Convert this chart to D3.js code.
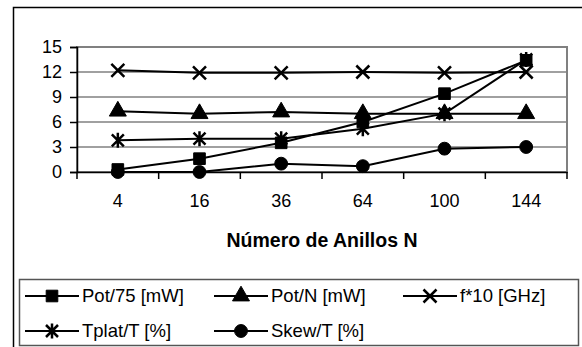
<!DOCTYPE html>
<html>
<head>
<meta charset="utf-8">
<script src="https://cdn.jsdelivr.net/npm/d3@7"></script>
<style>
  body { margin: 0; background: #fff; }
  text { font-family: "Liberation Sans", Arial, sans-serif; }
</style>
</head>
<body>
<script>
// datos
const categories = ["4", "16", "36", "64", "100", "144"];
const pot75 = [0.3, 1.6, 3.5, 6.0, 9.4, 13.4];
const potN = [7.3, 7.0, 7.2, 7.0, 7.0, 7.0];
const f10 = [12.2, 11.9, 11.9, 12.0, 11.9, 12.0];
const tplat = [3.8, 4.0, 4.0, 5.2, 7.0, 13.5];
const skew = [0, 0, 1.0, 0.7, 2.8, 3.0];
const yTicks = [0, 3, 6, 9, 12, 15];
const seriesNames = ["Pot/75 [mW]", "Pot/N [mW]", "f*10 [GHz]", "Tplat/T [%]", "Skew/T [%]"];
const seriesKinds = ["square", "triangle", "x", "asterisk", "circle"];

const W = 582, H = 347;
const svg = d3.select("body").append("svg")
  .attr("width", W).attr("height", H);

// marco exterior
svg.append("rect")
  .attr("x", 13.5).attr("y", 7.5)
  .attr("width", 600).attr("height", 400)
  .attr("fill", "#fff").attr("stroke", "#000").attr("stroke-width", 1.5);

const x = d3.scaleBand().domain(categories).range([77, 567]).padding(0);
const y = d3.scaleLinear().domain([0, 15]).range([172, 47]);

// area de trazado
svg.append("rect")
  .attr("x", 77).attr("y", 47)
  .attr("width", 490).attr("height", 125)
  .attr("fill", "#fff").attr("stroke", "#808080").attr("stroke-width", 2);

// lineas de cuadricula
svg.selectAll(".grid").data(yTicks.filter(d => d > 0)).enter()
  .append("line")
  .attr("x1", 77).attr("x2", 567)
  .attr("y1", d => y(d)).attr("y2", d => y(d))
  .attr("stroke", "#808080").attr("stroke-width", 1.5);

// eje Y
const yAxis = svg.append("g").attr("transform", "translate(77,0)")
  .call(d3.axisLeft(y).tickValues(yTicks).tickSize(7).tickPadding(8));
yAxis.select(".domain").attr("stroke", "#000").attr("stroke-width", 1.5);
yAxis.selectAll("line").attr("stroke", "#000").attr("stroke-width", 1.5);
yAxis.selectAll("text").attr("font-size", 18).attr("fill", "#000")
  .attr("font-family", "Liberation Sans, Arial, sans-serif");

// eje X
const xAxis = svg.append("g").attr("transform", "translate(0,172)")
  .call(d3.axisBottom(x).tickSize(0).tickPadding(22));
xAxis.select(".domain").attr("stroke", "#000").attr("stroke-width", 1.5);
xAxis.selectAll("text").attr("font-size", 18).attr("fill", "#000")
  .attr("font-family", "Liberation Sans, Arial, sans-serif");
// marcas entre categorias
const bounds = categories.map(c => x(c)).concat([x.range()[1]]);
svg.selectAll(".xtick").data(bounds).enter()
  .append("line")
  .attr("x1", d => d).attr("x2", d => d)
  .attr("y1", 172).attr("y2", 179)
  .attr("stroke", "#000").attr("stroke-width", 1.5);

svg.append("text")
  .attr("x", 322).attr("y", 247)
  .attr("text-anchor", "middle")
  .attr("font-size", 19.5).attr("font-weight", "bold")
  .text("Número de Anillos N");

function markerPath(kind) {
  if (kind === "square") return d3.symbol(d3.symbolSquare, 135)();
  if (kind === "triangle") return d3.symbol(d3.symbolTriangle, 125)();
  if (kind === "circle") return d3.symbol(d3.symbolCircle, 130)();
  if (kind === "x") return "M-6.5,-6.5L6.5,6.5M-6.5,6.5L6.5,-6.5";
  return "M-6,-6L6,6M-6,6L6,-6M0,-7.5L0,7.5";
}

const allSeries = [pot75, potN, f10, tplat, skew];
const line = d3.line().x((d, i) => x(categories[i]) + x.bandwidth() / 2).y(d => y(d));

allSeries.forEach((vals, s) => {
  const g = svg.append("g");
  g.append("path").attr("d", line(vals))
    .attr("fill", "none").attr("stroke", "#000").attr("stroke-width", 2);
  const kind = seriesKinds[s];
  g.selectAll("path.m").data(vals).enter()
    .append("path").attr("class", "m")
    .attr("transform", (d, i) => `translate(${x(categories[i]) + x.bandwidth() / 2},${y(d)})`)
    .attr("d", markerPath(kind))
    .attr("fill", (kind === "x" || kind === "asterisk") ? "none" : "#000")
    .attr("stroke", "#000")
    .attr("stroke-width", (kind === "x" || kind === "asterisk") ? 2.5 : 1);
});

// leyenda
svg.append("rect")
  .attr("x", 19.5).attr("y", 279.5)
  .attr("width", 559).attr("height", 66)
  .attr("fill", "#fff").attr("stroke", "#555").attr("stroke-width", 1.5);

const legendPos = [[25, 296], [214, 296], [403, 296], [25, 331], [214, 331]];
seriesNames.forEach((name, s) => {
  const [lx, ly] = legendPos[s];
  const g = svg.append("g");
  g.append("line").attr("x1", lx).attr("x2", lx + 54)
    .attr("y1", ly).attr("y2", ly)
    .attr("stroke", "#000").attr("stroke-width", 2);
  const kind = seriesKinds[s];
  g.append("path")
    .attr("transform", `translate(${lx + 27},${ly})`)
    .attr("d", markerPath(kind))
    .attr("fill", (kind === "x" || kind === "asterisk") ? "none" : "#000")
    .attr("stroke", "#000")
    .attr("stroke-width", (kind === "x" || kind === "asterisk") ? 2.5 : 1);
  g.append("text").attr("x", lx + 57).attr("y", ly)
    .attr("dy", "0.35em").attr("font-size", 18.5)
    .text(name);
});
</script>
</body>
</html>
